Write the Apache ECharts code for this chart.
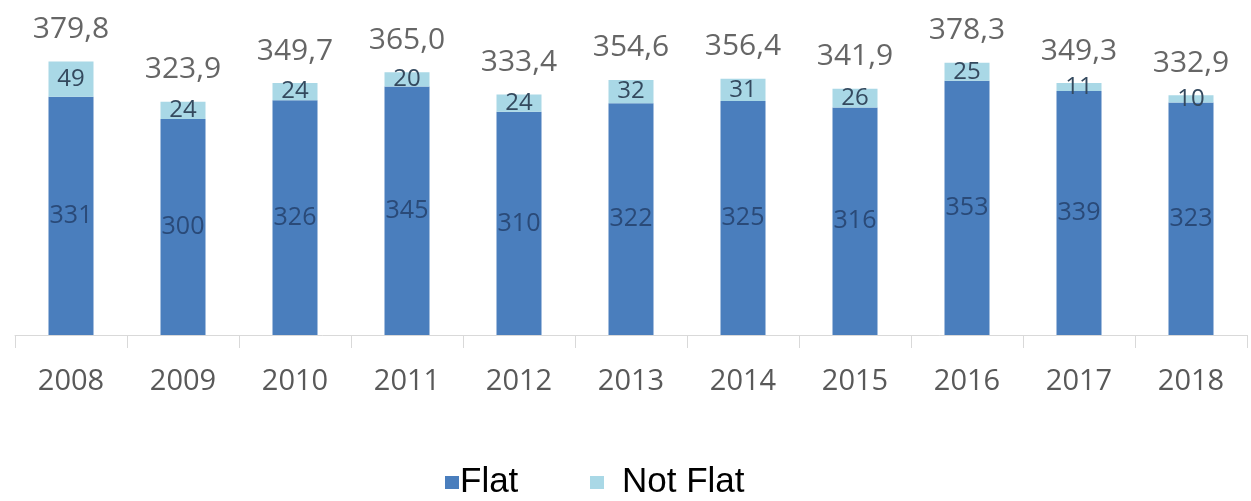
<!DOCTYPE html>
<html>
<head>
<meta charset="utf-8">
<script src="https://cdn.jsdelivr.net/npm/echarts@6/dist/echarts.min.js"></script>
<style>
  html, body { margin: 0; padding: 0; background: #ffffff; }
  #chart { width: 1251px; height: 501px; }
</style>
</head>
<body>
<div id="chart"></div>
<script>
// Years on the category axis
const years = ['2008', '2009', '2010', '2011', '2012', '2013', '2014', '2015', '2016', '2017', '2018'];
// Stacked components
const flat = [331, 300, 326, 345, 310, 322, 325, 316, 353, 339, 323];
const notFlat = [49, 24, 24, 20, 24, 32, 31, 26, 25, 11, 10];
// Reported totals shown above each bar
const totals = [379.8, 323.9, 349.7, 365.0, 333.4, 354.6, 356.4, 341.9, 378.3, 349.3, 332.9];

const chart = echarts.init(document.getElementById('chart'));
const labelFont = 'Open Sans, Lato, sans-serif';
const legendFont = 'Liberation Sans, Arial, sans-serif';

const legendBase = {
  top: 460,
  itemWidth: 14,
  itemHeight: 13,
  icon: 'rect',
  selectedMode: false
};

chart.setOption({
  animation: false,
  backgroundColor: '#ffffff',
  grid: { left: 15, right: 4, top: 47, bottom: 166, containLabel: false },
  xAxis: {
    type: 'category',
    data: years,
    axisLine: { lineStyle: { color: '#d9d9d9', width: 1 } },
    axisTick: { show: true, length: 13, lineStyle: { color: '#d9d9d9' } },
    axisLabel: { color: '#595959', fontSize: 29, fontFamily: labelFont, margin: 32 }
  },
  yAxis: {
    type: 'value',
    min: 0,
    max: 400,
    show: false,
    splitLine: { show: false }
  },
  legend: [
    Object.assign({}, legendBase, {
      left: 440,
      data: ['Flat'],
      textStyle: { color: '#000000', fontSize: 35, fontFamily: legendFont, padding: [0, 0, 10, -4] }
    }),
    Object.assign({}, legendBase, {
      left: 585,
      data: ['Not Flat'],
      textStyle: { color: '#000000', fontSize: 35, fontFamily: legendFont, padding: [0, 0, 10, 13] }
    })
  ],
  series: [
    {
      name: 'Flat',
      type: 'bar',
      stack: 'total',
      barWidth: 45,
      data: flat,
      itemStyle: { color: '#4a7ebd' },
      label: {
        show: true,
        position: 'inside',
        color: '#2a4a78',
        fontSize: 25,
        fontFamily: labelFont
      }
    },
    {
      name: 'Not Flat',
      type: 'bar',
      stack: 'total',
      barWidth: 45,
      data: notFlat,
      itemStyle: { color: '#a9d8e6' },
      label: {
        show: true,
        position: 'inside',
        color: '#34495e',
        fontSize: 24,
        fontFamily: labelFont
      }
    },
    {
      name: 'Total',
      type: 'scatter',
      data: totals,
      symbolSize: 0,
      silent: true,
      label: {
        show: true,
        position: 'top',
        distance: 17,
        color: '#404040',
        fontSize: 30,
        fontFamily: labelFont,
        formatter: p => p.value.toFixed(1).replace('.', ',')
      }
    }
  ]
});
</script>
</body>
</html>
